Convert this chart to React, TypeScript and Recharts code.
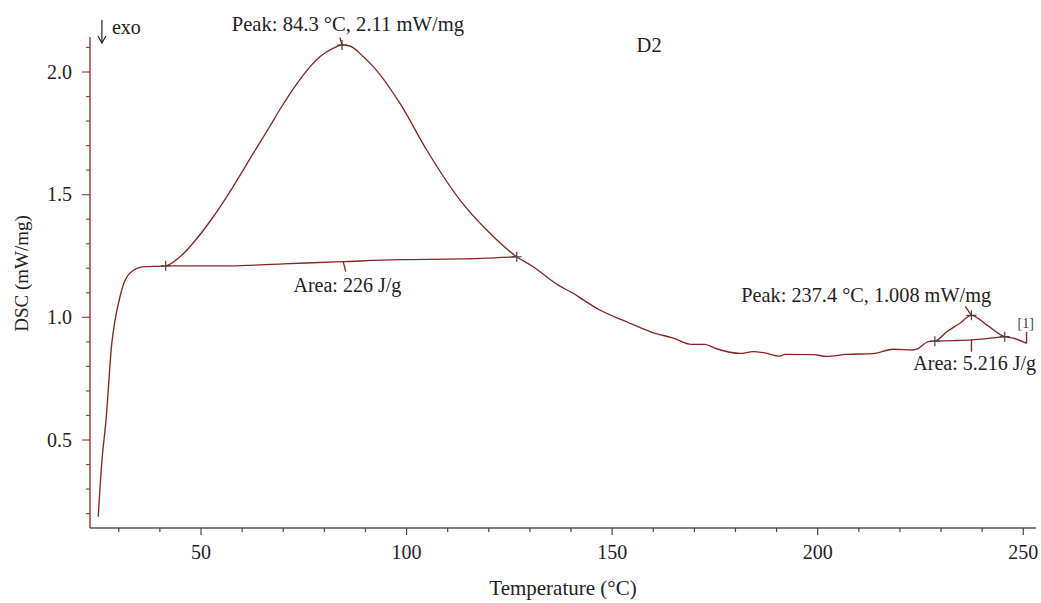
import React from 'react';
import { ComposedChart, Line, Scatter, XAxis, YAxis, ReferenceDot } from 'recharts';

// Measured DSC curve (Temperature °C, DSC mW/mg)
const curveT = [25.0, 25.85, 26.9, 28.3, 29.1, 30.3, 31.5, 33.1, 35.9, 41.4, 44.9, 47.3, 53.0, 57.9, 62.7, 66.8, 69.0, 73.3, 78.9, 82.2, 84.3, 86.2, 89.5, 91.9, 98.4, 104.9, 113.0, 119.5, 126.8, 130.8, 137.0, 140.5, 143.0, 147.0, 153.5, 159.5, 164.9, 169.3, 172.5, 175.4, 181.1, 184.3, 186.8, 190.8, 192.0, 198.9, 202.2, 207.0, 213.5, 218.4, 223.2, 224.1, 226.9, 228.5, 231.4, 234.5, 237.4, 241.1, 245.5, 247.6, 250.8];
const curveDSC = [0.187, 0.405, 0.582, 0.894, 0.989, 1.084, 1.150, 1.186, 1.206, 1.210, 1.247, 1.288, 1.410, 1.535, 1.668, 1.780, 1.842, 1.952, 2.062, 2.097, 2.110, 2.106, 2.062, 2.022, 1.872, 1.682, 1.478, 1.356, 1.247, 1.206, 1.130, 1.098, 1.071, 1.030, 0.982, 0.940, 0.915, 0.890, 0.890, 0.872, 0.853, 0.860, 0.856, 0.842, 0.849, 0.848, 0.841, 0.849, 0.852, 0.870, 0.867, 0.870, 0.901, 0.903, 0.941, 0.975, 1.008, 0.969, 0.921, 0.915, 0.894];

// Integration baselines
const base1T = [41.4, 57.0, 70.0, 84.5, 98.0, 113.0, 126.8];
const base1DSC = [1.210, 1.210, 1.218, 1.227, 1.235, 1.238, 1.247];
const base2T = [228.5, 233.0, 237.4, 241.5, 245.5];
const base2DSC = [0.903, 0.905, 0.908, 0.914, 0.921];

// Evaluation markers (+)
const markT = [41.4, 84.3, 126.8, 228.5, 237.4, 245.5];
const markDSC = [1.210, 2.110, 1.247, 0.903, 1.008, 0.921];

// Leader lines of the annotations
const leaderPeak1T = [83.8, 84.3];
const leaderPeak1DSC = [2.140, 2.110];
const leaderArea1T = [84.6, 85.2];
const leaderArea1DSC = [1.227, 1.186];
const leaderPeak2T = [235.9, 237.4];
const leaderPeak2DSC = [1.045, 1.008];
const leaderArea2T = [237.4, 237.4];
const leaderArea2DSC = [0.908, 0.860];
const bracketT = [250.8, 250.8];
const bracketDSC = [0.894, 0.941];

// Annotation texts and their anchor points (data units)
const noteText = ['Peak: 84.3 °C, 2.11 mW/mg', 'Area: 226 J/g', 'Peak: 237.4 °C, 1.008 mW/mg', 'Area: 5.216 J/g', 'D2'];
const noteT = [85.73, 85.6, 211.8, 238.2, 159.0];
const noteDSC = [2.168, 1.104, 1.064, 0.785, 2.083];
const noteSize = [20.6, 20, 20.3, 20, 20.5];

// Axis ticks
const xTicks = [30, 40, 50, 60, 70, 80, 90, 100, 110, 120, 130, 140, 150, 160, 170, 180, 190, 200, 210, 220, 230, 240, 250];
const yTicks = [0.2, 0.3, 0.4, 0.5, 0.6, 0.7, 0.8, 0.9, 1.0, 1.1, 1.2, 1.3, 1.4, 1.5, 1.6, 1.7, 1.8, 1.9, 2.0, 2.1];
const xMajor = [50, 100, 150, 200, 250];
const yMajor = [0.5, 1.0, 1.5, 2.0];

const zip = (xs: number[], ys: number[]) => xs.map((x, i) => ({ x, y: ys[i] }));

const curve = zip(curveT, curveDSC);
const base1 = zip(base1T, base1DSC);
const base2 = zip(base2T, base2DSC);
const marks = zip(markT, markDSC);

const FONT = '"Liberation Serif", "Times New Roman", serif';
const CURVE = '#8a2424';
const TEXT = '#222';

const XTick = (props: any) => {
  const { x, y, payload } = props;
  const major = xMajor.includes(payload.value);
  return (
    <g>
      <line x1={x} x2={x} y1={y} y2={y + (major ? 7 : 4)} stroke="#444" strokeWidth={1.2} />
      {major && (
        <text x={x} y={y + 31} textAnchor="middle" fontFamily={FONT} fontSize={20} fill={TEXT}>
          {payload.value}
        </text>
      )}
    </g>
  );
};

const YTick = (props: any) => {
  const { x, y, payload } = props;
  const major = yMajor.some((v) => Math.abs(v - payload.value) < 1e-6);
  return (
    <g>
      <line x1={x - (major ? 8 : 4)} x2={x} y1={y} y2={y} stroke="#9a4545" strokeWidth={1.2} />
      {major && (
        <text x={x - 18} y={y + 6.5} textAnchor="end" fontFamily={FONT} fontSize={20} fill={TEXT}>
          {payload.value.toFixed(1)}
        </text>
      )}
    </g>
  );
};

const Cross = (props: any) => {
  const { cx, cy } = props;
  if (cx == null || cy == null) return null;
  return <path d={`M${cx - 5},${cy}H${cx + 5}M${cx},${cy - 5}V${cy + 5}`} stroke="#444" strokeWidth={1.2} fill="none" />;
};

const NoteLabel = (text: string, anchor: string = 'middle', size: number = 20, color: string = TEXT) => (props: any) => {
  const vb = props.viewBox || {};
  const cx = (vb.x ?? 0) + (vb.width ?? 0) / 2;
  const cy = (vb.y ?? 0) + (vb.height ?? 0) / 2;
  return (
    <text x={cx} y={cy} textAnchor={anchor} fontFamily={FONT} fontSize={size} fill={color}>
      {text}
    </text>
  );
};

const ExoArrow = (props: any) => {
  const { cx, cy } = props;
  if (cx == null || cy == null) return null;
  return (
    <g>
      <path d={`M${cx},${cy - 23}V${cy}`} stroke="#222" strokeWidth={1.2} fill="none" />
      <path d={`M${cx - 4},${cy - 7}L${cx},${cy}L${cx + 4},${cy - 7}`} stroke="#222" strokeWidth={1.2} fill="none" />
    </g>
  );
};

const lineProps = {
  dataKey: 'y',
  dot: false,
  activeDot: false,
  isAnimationActive: false,
  stroke: CURVE,
  strokeWidth: 1.35,
  legendType: 'none' as const,
};

export default function App() {
  return (
    <div style={{ position: 'absolute', left: 0, top: 0, background: '#fff' }}>
      <ComposedChart width={1041} height={603} margin={{ top: 37, right: 5, bottom: 0, left: 0 }}>
        <XAxis
          dataKey="x"
          type="number"
          domain={[23, 253.1]}
          ticks={xTicks}
          interval={0}
          tickSize={0}
          tickMargin={0}
          tickLine={false}
          tick={<XTick />}
          height={75}
          axisLine={{ stroke: '#555', strokeWidth: 1.5 }}
          label={{
            content: (p: any) => {
              const vb = p.viewBox;
              return (
                <text x={vb.x + vb.width / 2} y={vb.y + 67} textAnchor="middle" fontFamily={FONT} fontSize={21} fill={TEXT}>
                  Temperature (°C)
                </text>
              );
            },
          }}
        />
        <YAxis
          type="number"
          domain={[0.1413, 2.1427]}
          ticks={yTicks}
          interval={0}
          tickSize={0}
          tickMargin={0}
          tickLine={false}
          tick={<YTick />}
          width={90}
          axisLine={{ stroke: '#9a4545', strokeWidth: 1.5 }}
          label={{
            content: (p: any) => {
              const vb = p.viewBox;
              const cx = vb.x + 21;
              const cy = vb.y + vb.height / 2 - 9;
              return (
                <text x={cx} y={cy} transform={`rotate(-90 ${cx} ${cy})`} textAnchor="middle" dominantBaseline="central" fontFamily={FONT} fontSize={19} fill={TEXT}>
                  DSC (mW/mg)
                </text>
              );
            },
          }}
        />
        <Line {...lineProps} data={base1} type="monotone" />
        <Line {...lineProps} data={base2} type="monotone" />
        <Line {...lineProps} data={curve} type="monotone" />
        <Line {...lineProps} data={zip(leaderPeak1T, leaderPeak1DSC)} type="linear" />
        <Line {...lineProps} data={zip(leaderArea1T, leaderArea1DSC)} type="linear" />
        <Line {...lineProps} data={zip(leaderPeak2T, leaderPeak2DSC)} type="linear" />
        <Line {...lineProps} data={zip(leaderArea2T, leaderArea2DSC)} type="linear" />
        <Line {...lineProps} data={zip(bracketT, bracketDSC)} type="linear" />
        <Scatter data={marks} dataKey="y" shape={<Cross />} isAnimationActive={false} legendType="none" />
        {noteText.map((t, i) => (
          <ReferenceDot key={t} x={noteT[i]} y={noteDSC[i]} r={0} ifOverflow="visible" fill="none" stroke="none" label={{ content: NoteLabel(t, 'middle', noteSize[i]) }} />
        ))}
        <ReferenceDot x={250.6} y={0.957} r={0} ifOverflow="visible" fill="none" stroke="none" label={{ content: NoteLabel('[1]', 'middle', 14, '#444') }} />
        <ReferenceDot x={28.35} y={2.155} r={0} ifOverflow="visible" fill="none" stroke="none" label={{ content: NoteLabel('exo', 'start') }} />
        <ReferenceDot x={25.9} y={2.118} r={0} ifOverflow="visible" shape={<ExoArrow />} />
      </ComposedChart>
    </div>
  );
}
